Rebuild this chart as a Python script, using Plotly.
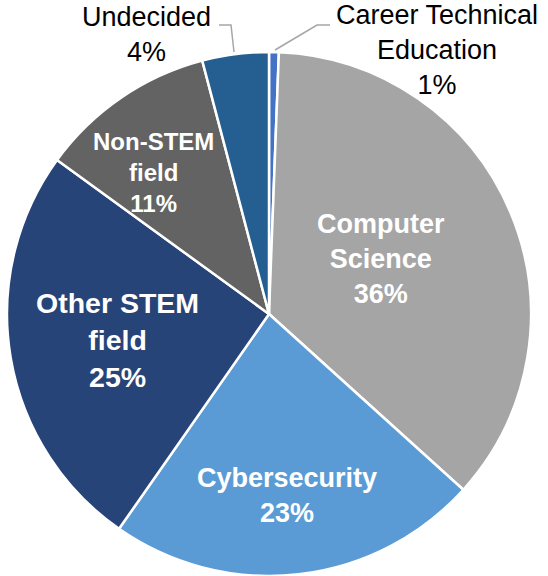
import plotly.graph_objects as go

labels = ["Career Technical Education", "Computer Science", "Cybersecurity",
          "Other STEM field", "Non-STEM field", "Undecided"]
values = [0.6, 36.1, 23.0, 25.3, 10.9, 4.1]
display_text = ["Career Technical<br>Education", "Computer<br>Science", "Cybersecurity",
                "Other STEM<br>field", "Non-STEM<br>field", "Undecided"]
colors = ["#4472C4", "#A5A5A5", "#5B9BD5", "#264478", "#636363", "#255E91"]

W, H = 548, 576
cx, cy, r = 269, 314, 262

fig = go.Figure(go.Pie(
    labels=labels, values=values, textinfo="none",
    sort=False, direction="clockwise", rotation=0,
    marker=dict(colors=colors, line=dict(color="white", width=2.5)),
    showlegend=False, hoverinfo="label+percent",
    domain=dict(x=[(cx - r) / W, (cx + r) / W], y=[1 - (cy + r) / H, 1 - (cy - r) / H]),
))

def px(x, y):
    return x / W, 1 - y / H

total = sum(values)
pct = [f"{round(v / total * 100):.0f}%" for v in values]

# label placement (pixel centres), style
label_layout = {
    0: dict(pos=(437, 50), size=27, bold=False, color="black"),
    1: dict(pos=(381, 259), size=27, bold=True, color="white"),
    2: dict(pos=(287, 495), size=27, bold=True, color="white"),
    3: dict(pos=(117, 340), size=28.5, bold=True, color="white"),
    4: dict(pos=(153, 172), size=24, bold=True, color="white"),
    5: dict(pos=(146, 34), size=27, bold=False, color="black"),
}
for i, spec in label_layout.items():
    txt = f"{display_text[i]}<br>{pct[i]}"
    if spec["bold"]:
        txt = f"<b>{txt}</b>"
    x, y = px(*spec["pos"])
    fig.add_annotation(x=x, y=y, xref="paper", yref="paper", text=txt, showarrow=False,
                       font=dict(family="Liberation Sans, Arial", size=spec["size"], color=spec["color"]),
                       xanchor="center", yanchor="middle", align="center")

def path(points):
    pts = [px(x, y) for x, y in points]
    return "M " + " L ".join(f"{x},{y}" for x, y in pts)

fig.add_shape(type="path", xref="paper", yref="paper",
              path=path([(219, 25), (231, 25), (234, 52)]),
              line=dict(color="#A6A6A6", width=1.5))
fig.add_shape(type="path", xref="paper", yref="paper",
              path=path([(275, 50), (317, 25), (330, 25)]),
              line=dict(color="#A6A6A6", width=1.5))

fig.update_layout(width=W, height=H, margin=dict(l=0, r=0, t=0, b=0),
                  paper_bgcolor="white", plot_bgcolor="white")
fig.write_html("out.html", config={"displayModeBar": False},
               post_script="document.body.style.margin='0';")
